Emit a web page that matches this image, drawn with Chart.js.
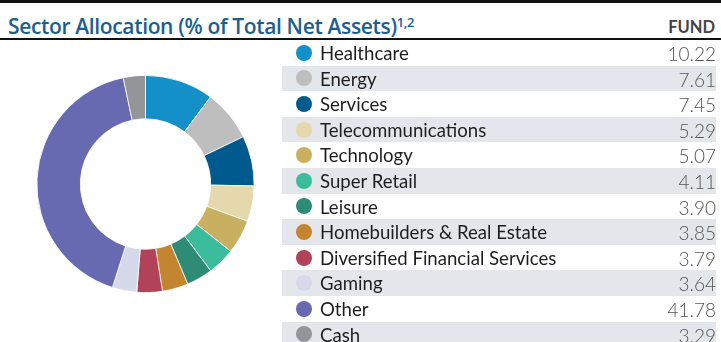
<!DOCTYPE html>
<html>
<head>
<meta charset="utf-8">
<script src="https://cdn.jsdelivr.net/npm/chart.js@4/dist/chart.umd.min.js"></script>
<style>
  html, body { margin: 0; padding: 0; background: #fff; }
  body { width: 721px; height: 342px; position: relative; overflow: hidden; font-family: 'Lato', sans-serif; }
  .rule-top { position: absolute; left: 0; top: 0; width: 721px; height: 3px; background: #111; }
  .rule-mid { position: absolute; left: 0; top: 38px; width: 721px; height: 2px; background: #111; }
  .title { position: absolute; left: 8px; top: 12px; font-size: 21px; font-weight: 600; color: #1b5f91; font-family: 'Open Sans', sans-serif; letter-spacing: -0.35px; }
  .title sup { font-size: 13px; position: relative; top: 1px; }
  .fund { position: absolute; right: 6px; top: 17px; font-size: 16.5px; font-weight: 700; color: #444; }
  .chart-box { position: absolute; left: 0; top: 40px; width: 291px; height: 302px; }
  .rows { position: absolute; left: 282px; top: 40px; width: 434px; }
  .row { height: 25.6px; position: relative; }
  .row.alt { background: #e3e6ea; }
  .dot { position: absolute; left: 14px; top: 4.8px; width: 16px; height: 16px; border-radius: 50%; }
  .label { position: absolute; left: 38px; top: 2px; font-size: 18.6px; color: #1e1e1e; white-space: nowrap; }
  .value { position: absolute; right: 0; top: 2px; font-size: 19px; font-weight: 300; color: #555; }
</style>
</head>
<body>
<div class="rule-top"></div>
<div class="title">Sector Allocation (% of Total Net Assets)<sup>1,2</sup></div>
<div class="fund">FUND</div>
<div class="rule-mid"></div>
<div class="chart-box"><canvas id="sectorChart"></canvas></div>
<div class="rows" id="rows"></div>

<script>
const sectors = ['Healthcare', 'Energy', 'Services', 'Telecommunications', 'Technology', 'Super Retail',
  'Leisure', 'Homebuilders & Real Estate', 'Diversified Financial Services', 'Gaming', 'Other', 'Cash'];
const fundPct = [10.22, 7.61, 7.45, 5.29, 5.07, 4.11, 3.90, 3.85, 3.79, 3.64, 41.78, 3.29];
const sectorColors = ['#1390c8', '#bebebe', '#005a8e', '#e4d8ac', '#c9b060', '#3bbc9c',
  '#2e8c76', '#c48530', '#b24258', '#d6d9ea', '#6769b1', '#939598'];

// table rows on the right
const rowsEl = document.getElementById('rows');
sectors.forEach((name, i) => {
  const row = document.createElement('div');
  row.className = 'row' + (i % 2 === 1 ? ' alt' : '');
  row.innerHTML = `<span class="dot" style="background:${sectorColors[i]}"></span>` +
    `<span class="label"></span><span class="value">${fundPct[i].toFixed(2)}</span>`;
  row.querySelector('.label').textContent = name;
  rowsEl.appendChild(row);
});

const ctx = document.getElementById('sectorChart').getContext('2d');
new Chart(ctx, {
  type: 'doughnut',
  data: {
    labels: sectors,
    datasets: [{
      data: fundPct,
      backgroundColor: sectorColors,
      borderColor: '#ffffff',
      borderWidth: 0.8
    }]
  },
  options: {
    responsive: true,
    maintainAspectRatio: false,
    animation: false,
    cutout: '60%',
    layout: { padding: { left: 36, right: 36, top: 35, bottom: 49 } },
    plugins: {
      legend: { display: false },
      tooltip: { enabled: false }
    }
  }
});
</script>
</body>
</html>
